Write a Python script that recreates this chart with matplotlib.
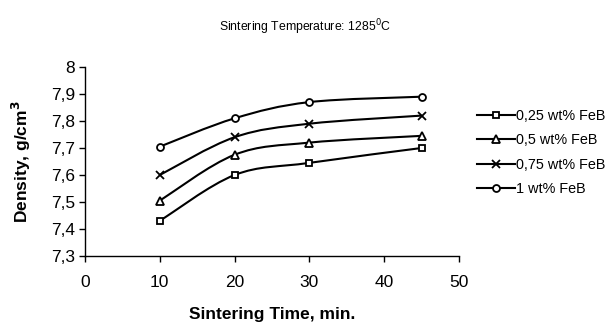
import numpy as np
import matplotlib.pyplot as plt
from matplotlib.path import Path
from matplotlib.patches import PathPatch
from matplotlib.lines import Line2D
from matplotlib.ticker import FuncFormatter

plt.rcParams['font.family'] = ['Liberation Sans', 'DejaVu Sans']

time_min = [10, 20, 30, 45]
dens_025 = [7.43, 7.60, 7.645, 7.70]
dens_05 = [7.505, 7.675, 7.72, 7.745]
dens_075 = [7.60, 7.74, 7.79, 7.82]
dens_1 = [7.705, 7.81, 7.87, 7.89]
labels = ['0,25 wt% FeB', '0,5 wt% FeB', '0,75 wt% FeB', '1 wt% FeB']
markers = ['s', '^', 'x', 'o']


def smooth_path(x, y):
    """excel style smoothed line, catmull-rom as bezier pieces"""
    pts = np.column_stack([x, y]).astype(float)
    verts = [pts[0]]
    codes = [Path.MOVETO]
    n = len(pts)
    for i in range(n - 1):
        p0 = pts[max(i - 1, 0)]
        p1 = pts[i]
        p2 = pts[i + 1]
        p3 = pts[min(i + 2, n - 1)]
        c1 = p1 + (p2 - p0) / 6.0
        c2 = p2 - (p3 - p1) / 6.0
        verts += [c1, c2, p2]
        codes += [Path.CURVE4] * 3
    return Path(verts, codes)


fig = plt.figure(figsize=(6.09, 3.27), dpi=100)
ax = fig.add_axes([85 / 609, 1 - 256 / 327, 374 / 609, 189 / 327])

msz = {'s': 5, '^': 5.5, 'x': 6, 'o': 5}
series = [dens_025, dens_05, dens_075, dens_1]
handles = []
for vals, mk, lab in zip(series, markers, labels):
    ax.add_patch(PathPatch(smooth_path(time_min, vals), facecolor='none',
                           edgecolor='black', lw=1.5, zorder=2))
    ax.plot(time_min, vals, linestyle='none', marker=mk, ms=msz[mk],
            mfc='white', mec='black', mew=1.3, zorder=3)
    handles.append(Line2D([], [], color='black', lw=1.5, marker=mk,
                          ms=msz[mk], mfc='white', mec='black', mew=1.3))

ax.set_xlim(0, 50)
ax.set_ylim(7.3, 8.0)
ax.set_xticks([0, 10, 20, 30, 40, 50])
ax.set_yticks(np.round(np.arange(7.3, 8.01, 0.1), 1))
ax.yaxis.set_major_formatter(FuncFormatter(
    lambda v, p: '8' if abs(v - 8) < 1e-6 else ('%.1f' % v).replace('.', ',')))
ax.spines['top'].set_visible(False)
ax.spines['right'].set_visible(False)
for s in ['left', 'bottom']:
    ax.spines[s].set_linewidth(1.0)
ax.tick_params(direction='out', length=4, width=1.0, labelsize=12.5, pad=3)
ax.tick_params(axis='x', pad=10)

ax.set_xlabel('Sintering Time, min.', fontsize=12.5, fontweight='bold', labelpad=12)
ax.set_ylabel('Density, g/cm$^\\mathbf{3}$', fontsize=12.5, fontweight='bold', labelpad=13)

fig.text(305 / 609, 1 - 27 / 327, 'Sintering Temperature: 1285$^0$C',
         ha='center', va='center', fontsize=8.8)

fig.legend(handles, labels, loc='upper left', bbox_to_anchor=(477 / 609, 1 - 109 / 327),
           frameon=False, fontsize=10.4, handlelength=2.6, handletextpad=0.1,
           labelspacing=0.72, borderaxespad=0, borderpad=0)

fig.savefig('out.png', dpi=100)
